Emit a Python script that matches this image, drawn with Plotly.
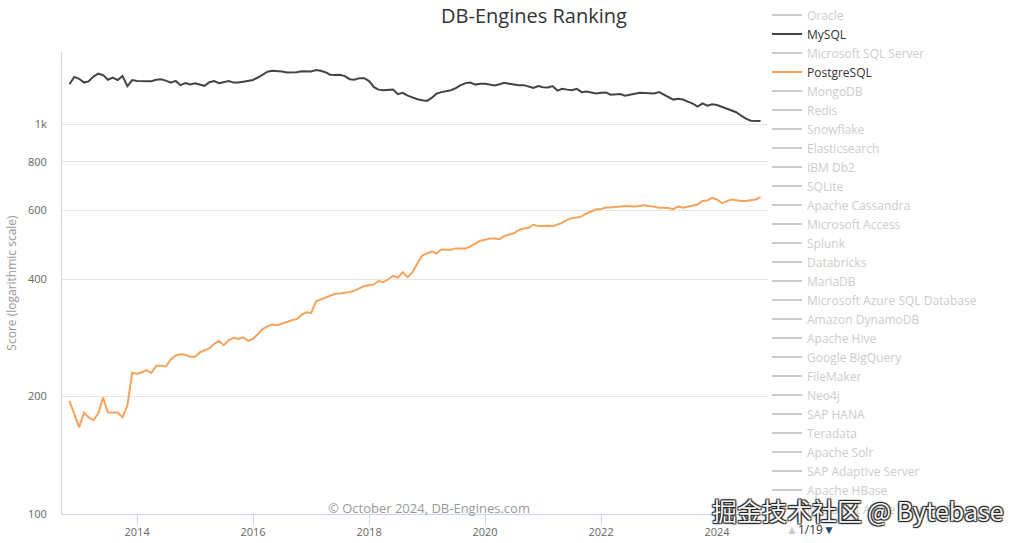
import plotly.graph_objects as go

months = [f"{2012 + (10 + i) // 12}-{(10 + i) % 12 + 1:02d}-01" for i in range(144)]

mysql = [1266, 1322, 1307, 1278, 1287, 1324, 1347, 1336, 1300, 1317, 1297, 1328,
         1252, 1297, 1291, 1289, 1287, 1289, 1300, 1304, 1293, 1278, 1291, 1259,
         1274, 1264, 1272, 1264, 1254, 1281, 1289, 1274, 1281, 1289, 1278, 1278,
         1285, 1293, 1298, 1317, 1339, 1363, 1370, 1369, 1365, 1357, 1355, 1359,
         1367, 1369, 1365, 1376, 1371, 1359, 1339, 1336, 1338, 1328, 1304, 1300,
         1312, 1312, 1289, 1244, 1226, 1222, 1222, 1227, 1194, 1203, 1183, 1169,
         1158, 1152, 1147, 1169, 1197, 1208, 1215, 1222, 1237, 1259, 1274, 1278,
         1263, 1270, 1270, 1263, 1257, 1266, 1276, 1270, 1263, 1259, 1259, 1248,
         1238, 1252, 1244, 1242, 1252, 1219, 1232, 1226, 1222, 1232, 1208, 1213,
         1206, 1199, 1204, 1206, 1190, 1192, 1194, 1183, 1187, 1196, 1203, 1201,
         1199, 1199, 1208, 1190, 1173, 1156, 1162, 1156, 1142, 1129, 1109, 1130,
         1115, 1125, 1119, 1107, 1094, 1086, 1073, 1051, 1033, 1020, 1021, 1018]

postgresql = [195, 180, 167, 182, 177, 174, 181, 199, 182, 182, 182, 177,
              190, 230, 229, 231, 234, 230, 240, 240, 239, 249, 255, 257,
              256, 253, 253, 260, 263, 266, 273, 278, 271, 279, 283, 281,
              284, 278, 281, 289, 298, 303, 306, 305, 308, 312, 314, 316,
              324, 329, 328, 351, 355, 359, 363, 367, 368, 369, 371, 374,
              379, 384, 386, 388, 396, 393, 400, 408, 404, 417, 405, 417,
              439, 460, 466, 471, 466, 477, 476, 476, 480, 479, 480, 486,
              494, 502, 505, 509, 509, 507, 516, 520, 525, 535, 540, 542,
              552, 547, 549, 549, 547, 552, 558, 568, 574, 576, 580, 590,
              598, 605, 606, 611, 611, 612, 615, 617, 615, 615, 617, 619,
              617, 614, 610, 610, 609, 605, 615, 610, 614, 616, 622, 635,
              637, 647, 641, 627, 635, 641, 638, 635, 635, 637, 641, 650]

systems = ["Oracle", "MySQL", "Microsoft SQL Server", "PostgreSQL", "MongoDB", "Redis",
           "Snowflake", "Elasticsearch", "IBM Db2", "SQLite", "Apache Cassandra",
           "Microsoft Access", "Splunk", "Databricks", "MariaDB",
           "Microsoft Azure SQL Database", "Amazon DynamoDB", "Apache Hive",
           "Google BigQuery", "FileMaker", "Neo4j", "SAP HANA", "Teradata",
           "Apache Solr", "SAP Adaptive Server", "Apache HBase",
           "Microsoft Azure Cosmos DB"]

shown = {"MySQL": (mysql, "#434348"), "PostgreSQL": (postgresql, "#f7a35c")}

ytick_vals = [100, 200, 400, 600, 800, 1000]
ytick_text = ["100", "200", "400", "600", "800", "1k"]

fig = go.Figure()
for name in systems:
    if name in shown:
        vals, col = shown[name]
        fig.add_trace(go.Scatter(x=months, y=vals, name=name, mode="lines",
                                 line=dict(color=col, width=2),
                                 hovertemplate="%{x|%b %Y}: %{y}<extra>" + name + "</extra>"))
    else:
        # series switched off in the legend (no data shown)
        fig.add_trace(go.Scatter(x=[months[0]], y=[None],
                                 name=f'<span style="color:#999999">{name}</span>',
                                 mode="lines", line=dict(color="#999999", width=2),
                                 visible="legendonly"))

FONT = "Open Sans, Lato, sans-serif"

fig.update_layout(
    template="none",
    width=1024, height=543,
    margin=dict(l=62, r=256, t=52, b=29, autoexpand=False),
    paper_bgcolor="white", plot_bgcolor="white",
    font=dict(family=FONT, color="#666666", size=11),
    title=dict(text="DB-Engines Ranking", x=534 / 1024, xanchor="center",
               y=1 - 16 / 543, yanchor="middle",
               font=dict(size=20, color="#333333", family=FONT)),
    showlegend=True,
    hovermode="x unified",
    legend=dict(x=(767 - 62) / 706, xanchor="left", y=1.1115, yanchor="top",
                font=dict(size=12, color="#333333", family=FONT),
                bgcolor="rgba(0,0,0,0)", borderwidth=0, tracegroupgap=0, itemwidth=30,
                maxheight=543),
    xaxis=dict(type="date", range=["2012-09-15", "2024-11-17"], automargin=False,
               tick0="2014-01-01", dtick="M24", tickformat="%Y",
               showgrid=False, showline=True, linecolor="#ccd6eb", linewidth=1,
               ticks="outside", ticklen=10, tickcolor="#ccd6eb", ticklabelstandoff=-2,
               tickfont=dict(size=11, color="#666666"), zeroline=False),
    yaxis=dict(type="log", range=[2, 3.185], automargin=False,
               tickvals=ytick_vals, ticktext=ytick_text,
               showgrid=True, gridcolor="#e6e6e6", gridwidth=1,
               showline=True, linecolor="#ccd6eb", linewidth=1,
               ticks="", ticklabelstandoff=12,
               tickfont=dict(size=11, color="#666666"), zeroline=False,
               title=dict(text="Score (logarithmic scale)", standoff=8,
                          font=dict(size=12, color="#999999"))),
    annotations=[
        dict(text="© October 2024, DB-Engines.com", xref="paper", yref="paper",
             x=(429 - 62) / 706, y=(514 - 508) / 462, xanchor="center", yanchor="middle",
             showarrow=False, font=dict(size=13, color="#999999", family=FONT)),
        dict(text='<span style="color:#cccccc">▲</span>1/19<span style="color:#1f4e79">▼</span>',
             xref="paper", yref="paper", x=(784 - 62) / 706, y=(514 - 529) / 462,
             xanchor="left", yanchor="middle", showarrow=False,
             font=dict(size=12, color="#333333", family=FONT)),
        dict(text="掘金技术社区 @ Bytebase", xref="paper", yref="paper",
             x=(858 - 62) / 706, y=(514 - 510) / 462, xanchor="center", yanchor="middle",
             showarrow=False,
             font=dict(size=25, color="#f4f4f4", family="Noto Sans CJK SC",
                       shadow="1px 1px 1px #222, -1px -1px 1px #222, 1px -1px 1px #222, -1px 1px 1px #222")),
    ],
)

fig.write_html("out.html")
